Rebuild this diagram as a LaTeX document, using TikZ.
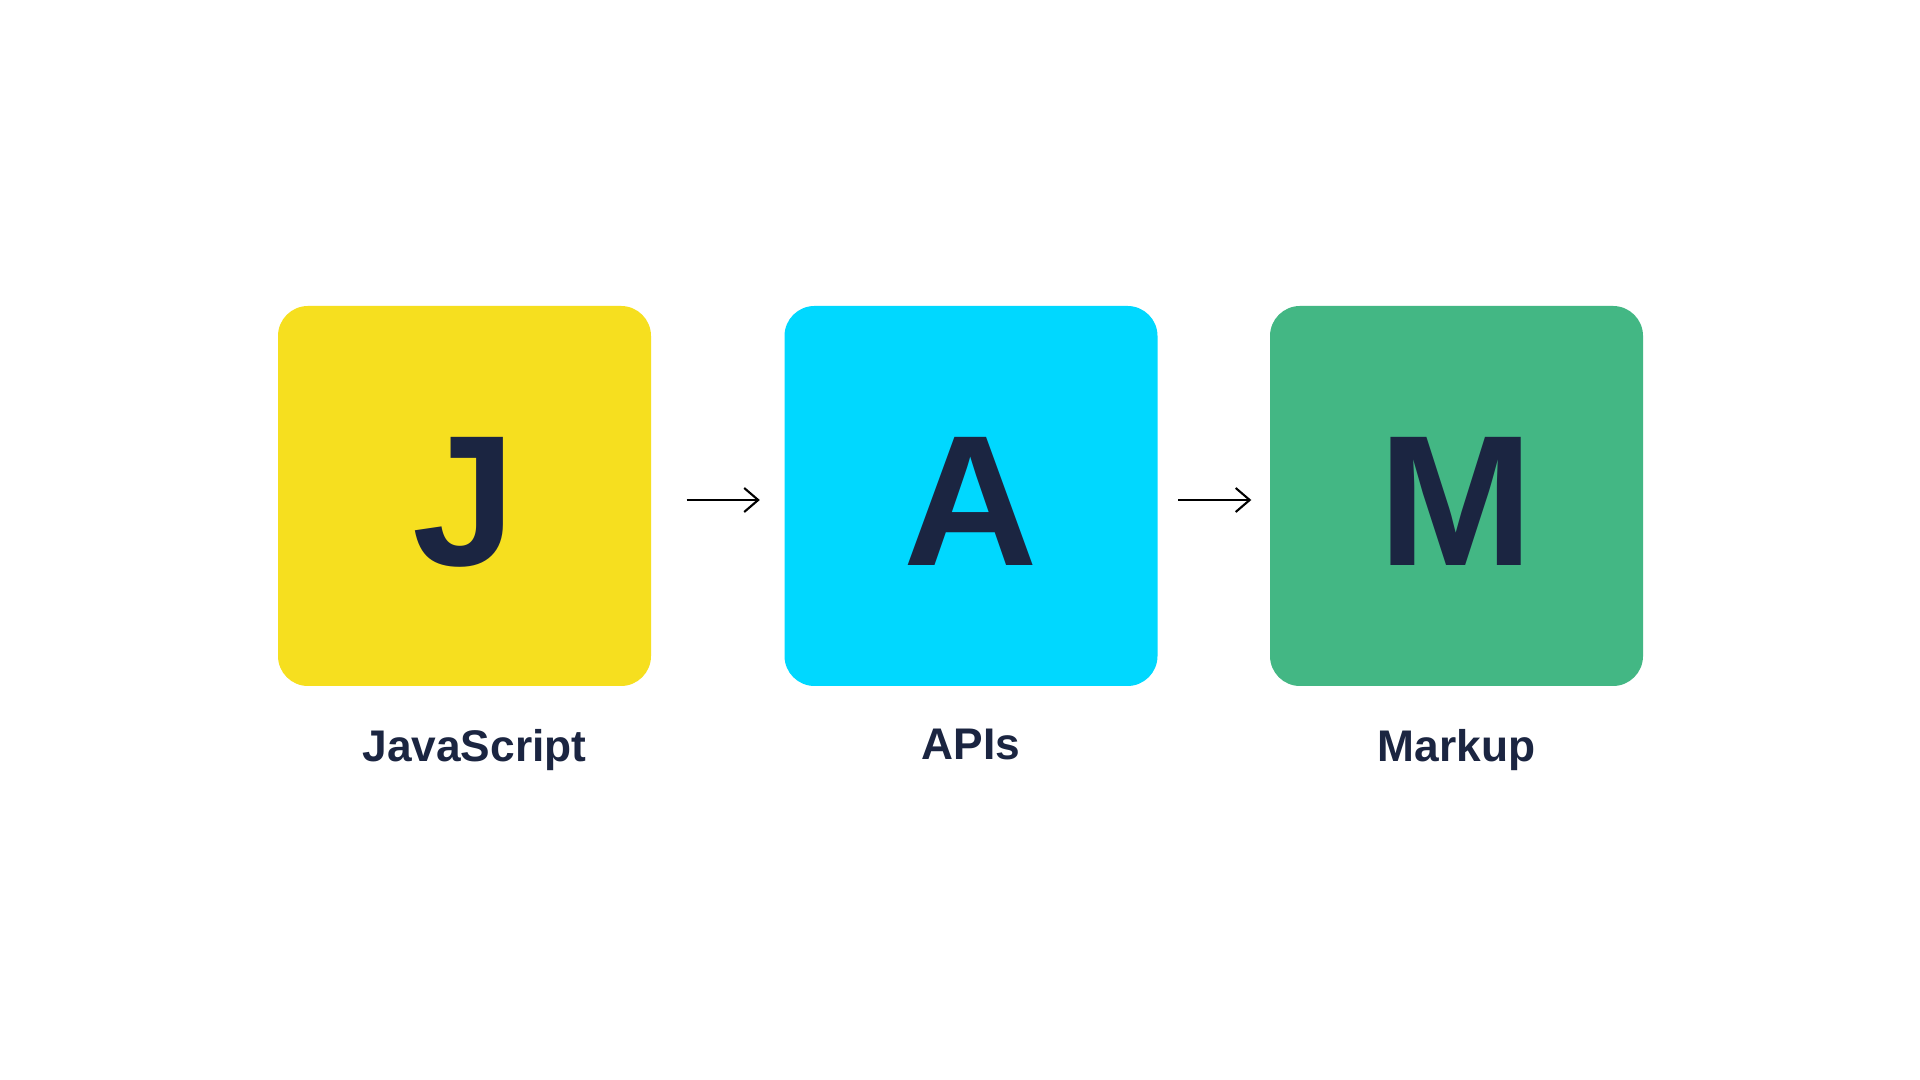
\documentclass[tikz,border=0pt]{standalone}
\usepackage{fontspec}
\setmainfont{Liberation Sans}
\usepackage{tikz}
\usetikzlibrary{arrows.meta,positioning}
\definecolor{jsyellow}{HTML}{F6DF1F}
\definecolor{apicyan}{HTML}{00D8FF}
\definecolor{mkgreen}{HTML}{43B784}
\definecolor{ink}{HTML}{1B2541}
\tikzset{
  letterbox/.style={
    rectangle, fill=#1, draw=none, rounded corners=0.3cm,
    minimum width=3.73cm, minimum height=3.80cm,
    font=\fontsize{53}{53}\selectfont\bfseries, text=ink, inner sep=0pt,
    text height=1.40cm, text depth=0pt
  },
  letterbox/.default=jsyellow,
  boxlabel/.style={
    font=\fontsize{12.6}{14}\selectfont\bfseries, text=ink, inner sep=0pt
  },
  flowarrow/.style={
    -{Straight Barb[length=1.4mm, width=2.4mm, line width=0.6pt]},
    line width=0.6pt, black
  },
}

\begin{document}
\begin{tikzpicture}
  \useasboundingbox (0,0) rectangle (19.2,10.8);
  \fill[white] (0,0) rectangle (19.2,10.8);

  % Letter boxes
  \node[letterbox=jsyellow] (js) at (4.645,5.84) {J};
  \node[letterbox=apicyan] (apis) at (9.71,5.84) {A};
  \node[letterbox=mkgreen] (mk) at (14.565,5.84) {M};

  % Labels
  \node[boxlabel, below=0.42cm of js, xshift=0.1cm] (jslabel) {JavaScript};
  \node[boxlabel, below=0.42cm of apis] (apislabel) {APIs};
  \node[boxlabel, below=0.42cm of mk] (mklabel) {Markup};

  % Arrows
  \draw[flowarrow, shorten <=0.35cm, shorten >=0.24cm] ([yshift=-0.04cm]js.east) -- ([yshift=-0.04cm]apis.west);
  \draw[flowarrow, shorten <=0.2cm, shorten >=0.18cm] ([yshift=-0.04cm]apis.east) -- ([yshift=-0.04cm]mk.west);
\end{tikzpicture}
\end{document}
